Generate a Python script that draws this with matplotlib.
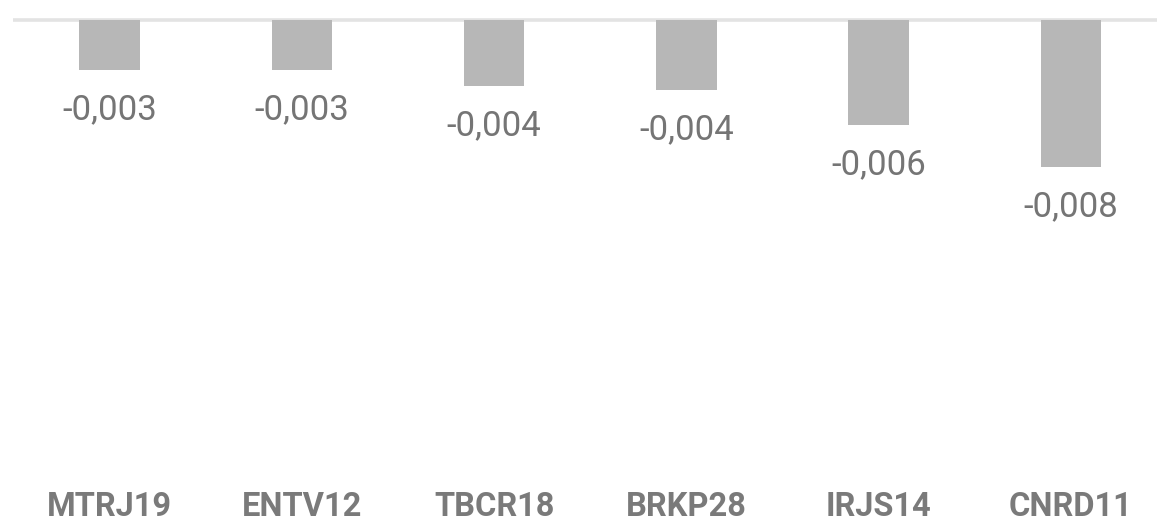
import matplotlib
matplotlib.use("Agg")
import matplotlib.pyplot as plt

categories = ["MTRJ19", "ENTV12", "TBCR18", "BRKP28", "IRJS14", "CNRD11"]
values = [-0.0027, -0.0027, -0.0036, -0.0038, -0.0057, -0.0080]
value_labels = ["-0,003", "-0,003", "-0,004", "-0,004", "-0,006", "-0,008"]

W, H = 1157, 523
fig = plt.figure(figsize=(W / 100, H / 100), dpi=100)
fig.patch.set_facecolor("white")

# axes: top at y=20px, bottom at y=480px
top_px, bot_px = 20, 480
ax = fig.add_axes([0, 1 - bot_px / H, 1, (bot_px - top_px) / H])
ax.set_facecolor("white")

spacing = 192.3
x0 = 109.5
ax.set_xlim(-x0 / spacing, (W - x0) / spacing)
ymin = -0.008 * (bot_px - top_px) / 147.0
ax.set_ylim(ymin, 0)

xs = list(range(len(categories)))
ax.bar(xs, values, width=0.315, color="#b7b7b7", zorder=2)

# baseline
ax.plot([(13 - x0) / spacing, (1157 - x0) / spacing], [0, 0], color="#e3e3e3",
        lw=2.6, solid_capstyle="butt", zorder=1, clip_on=False)

for x, v, lab in zip(xs, values, value_labels):
    ax.annotate(lab, (x, v), xytext=(0, -35.5), textcoords="offset points",
                ha="center", va="baseline", fontsize=25, family="Roboto",
                color="#757575")

for x, c in zip(xs, categories):
    xf = (x0 + spacing * x) / W
    fig.text(xf, 0.5 / H, c, ha="center", va="bottom", fontsize=23.5,
             family="Roboto", fontweight="bold", color="#7a7a7a")

ax.axis("off")
fig.savefig("out.png", dpi=100, facecolor="white")
